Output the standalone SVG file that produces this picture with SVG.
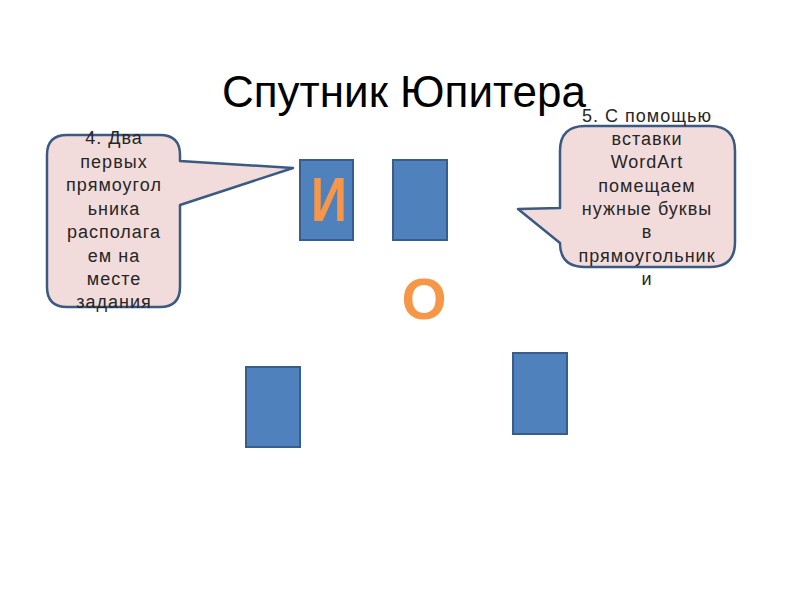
<svg xmlns="http://www.w3.org/2000/svg" width="800" height="600" viewBox="0 0 800 600">
<style>
.title{font-family:"Liberation Sans",Arial,sans-serif;font-size:44px;fill:#000}
.ct{font-family:"Liberation Sans",Arial,sans-serif;font-size:18px;fill:#262626;text-anchor:middle;letter-spacing:1px}
.callout{fill:#f2dcdb;stroke:#3b5a82;stroke-width:2.5;stroke-linejoin:round}
.box{fill:#4f81bd;stroke:#385d8a;stroke-width:2}
.big{font-family:"Liberation Sans",Arial,sans-serif;font-weight:bold;fill:#f79646;text-anchor:middle}
</style>
<rect width="800" height="600" fill="#fff"/>
<g id="title"><text class="title" x="222" y="107">Спутник Юпитера</text></g>
<g id="rect-i">
<rect class="box" x="300" y="160" width="53" height="80"/>
<text class="big" x="329" y="221" font-size="50" transform="translate(0,-55.25) scale(1,1.25)" style="font-size:50px" transform-origin="0 0">И</text>
</g>
<g id="rect-2"><rect class="box" x="393" y="160" width="54" height="80"/></g>
<g id="rect-3"><rect class="box" x="246" y="367" width="54" height="80"/></g>
<g id="rect-4"><rect class="box" x="513" y="353" width="54" height="81"/></g>
<g id="letter-o"><text class="big" x="424" y="319" style="font-size:58px">О</text></g>
<g id="callout-left">
<path class="callout" d="M67,135 H160 Q180,135 180,155 V161 L293,168 L180,205 V287 Q180,307 160,307 H67 Q47,307 47,287 V155 Q47,135 67,135 Z"/>
<text class="ct" x="114" y="144">4. Два</text>
<text class="ct" x="114" y="168">первых</text>
<text class="ct" x="114" y="191">прямоугол</text>
<text class="ct" x="114" y="215">ьника</text>
<text class="ct" x="114" y="238">располага</text>
<text class="ct" x="114" y="262">ем на</text>
<text class="ct" x="114" y="285">месте</text>
<text class="ct" x="114" y="308">задания</text>
</g>
<g id="callout-right">
<path class="callout" d="M585,126 H710 Q735,126 735,151 V242 Q735,267 710,267 H585 Q560,267 560,243 L518,209 L560,208 V151 Q560,126 585,126 Z"/>
<text class="ct" x="647" y="122">5. С помощью</text>
<text class="ct" x="647" y="145">вставки</text>
<text class="ct" x="647" y="168">WordArt</text>
<text class="ct" x="647" y="192">помещаем</text>
<text class="ct" x="647" y="215">нужные буквы</text>
<text class="ct" x="647" y="238">в</text>
<text class="ct" x="647" y="262">прямоугольник</text>
<text class="ct" x="647" y="285">и</text>
</g>
</svg>
